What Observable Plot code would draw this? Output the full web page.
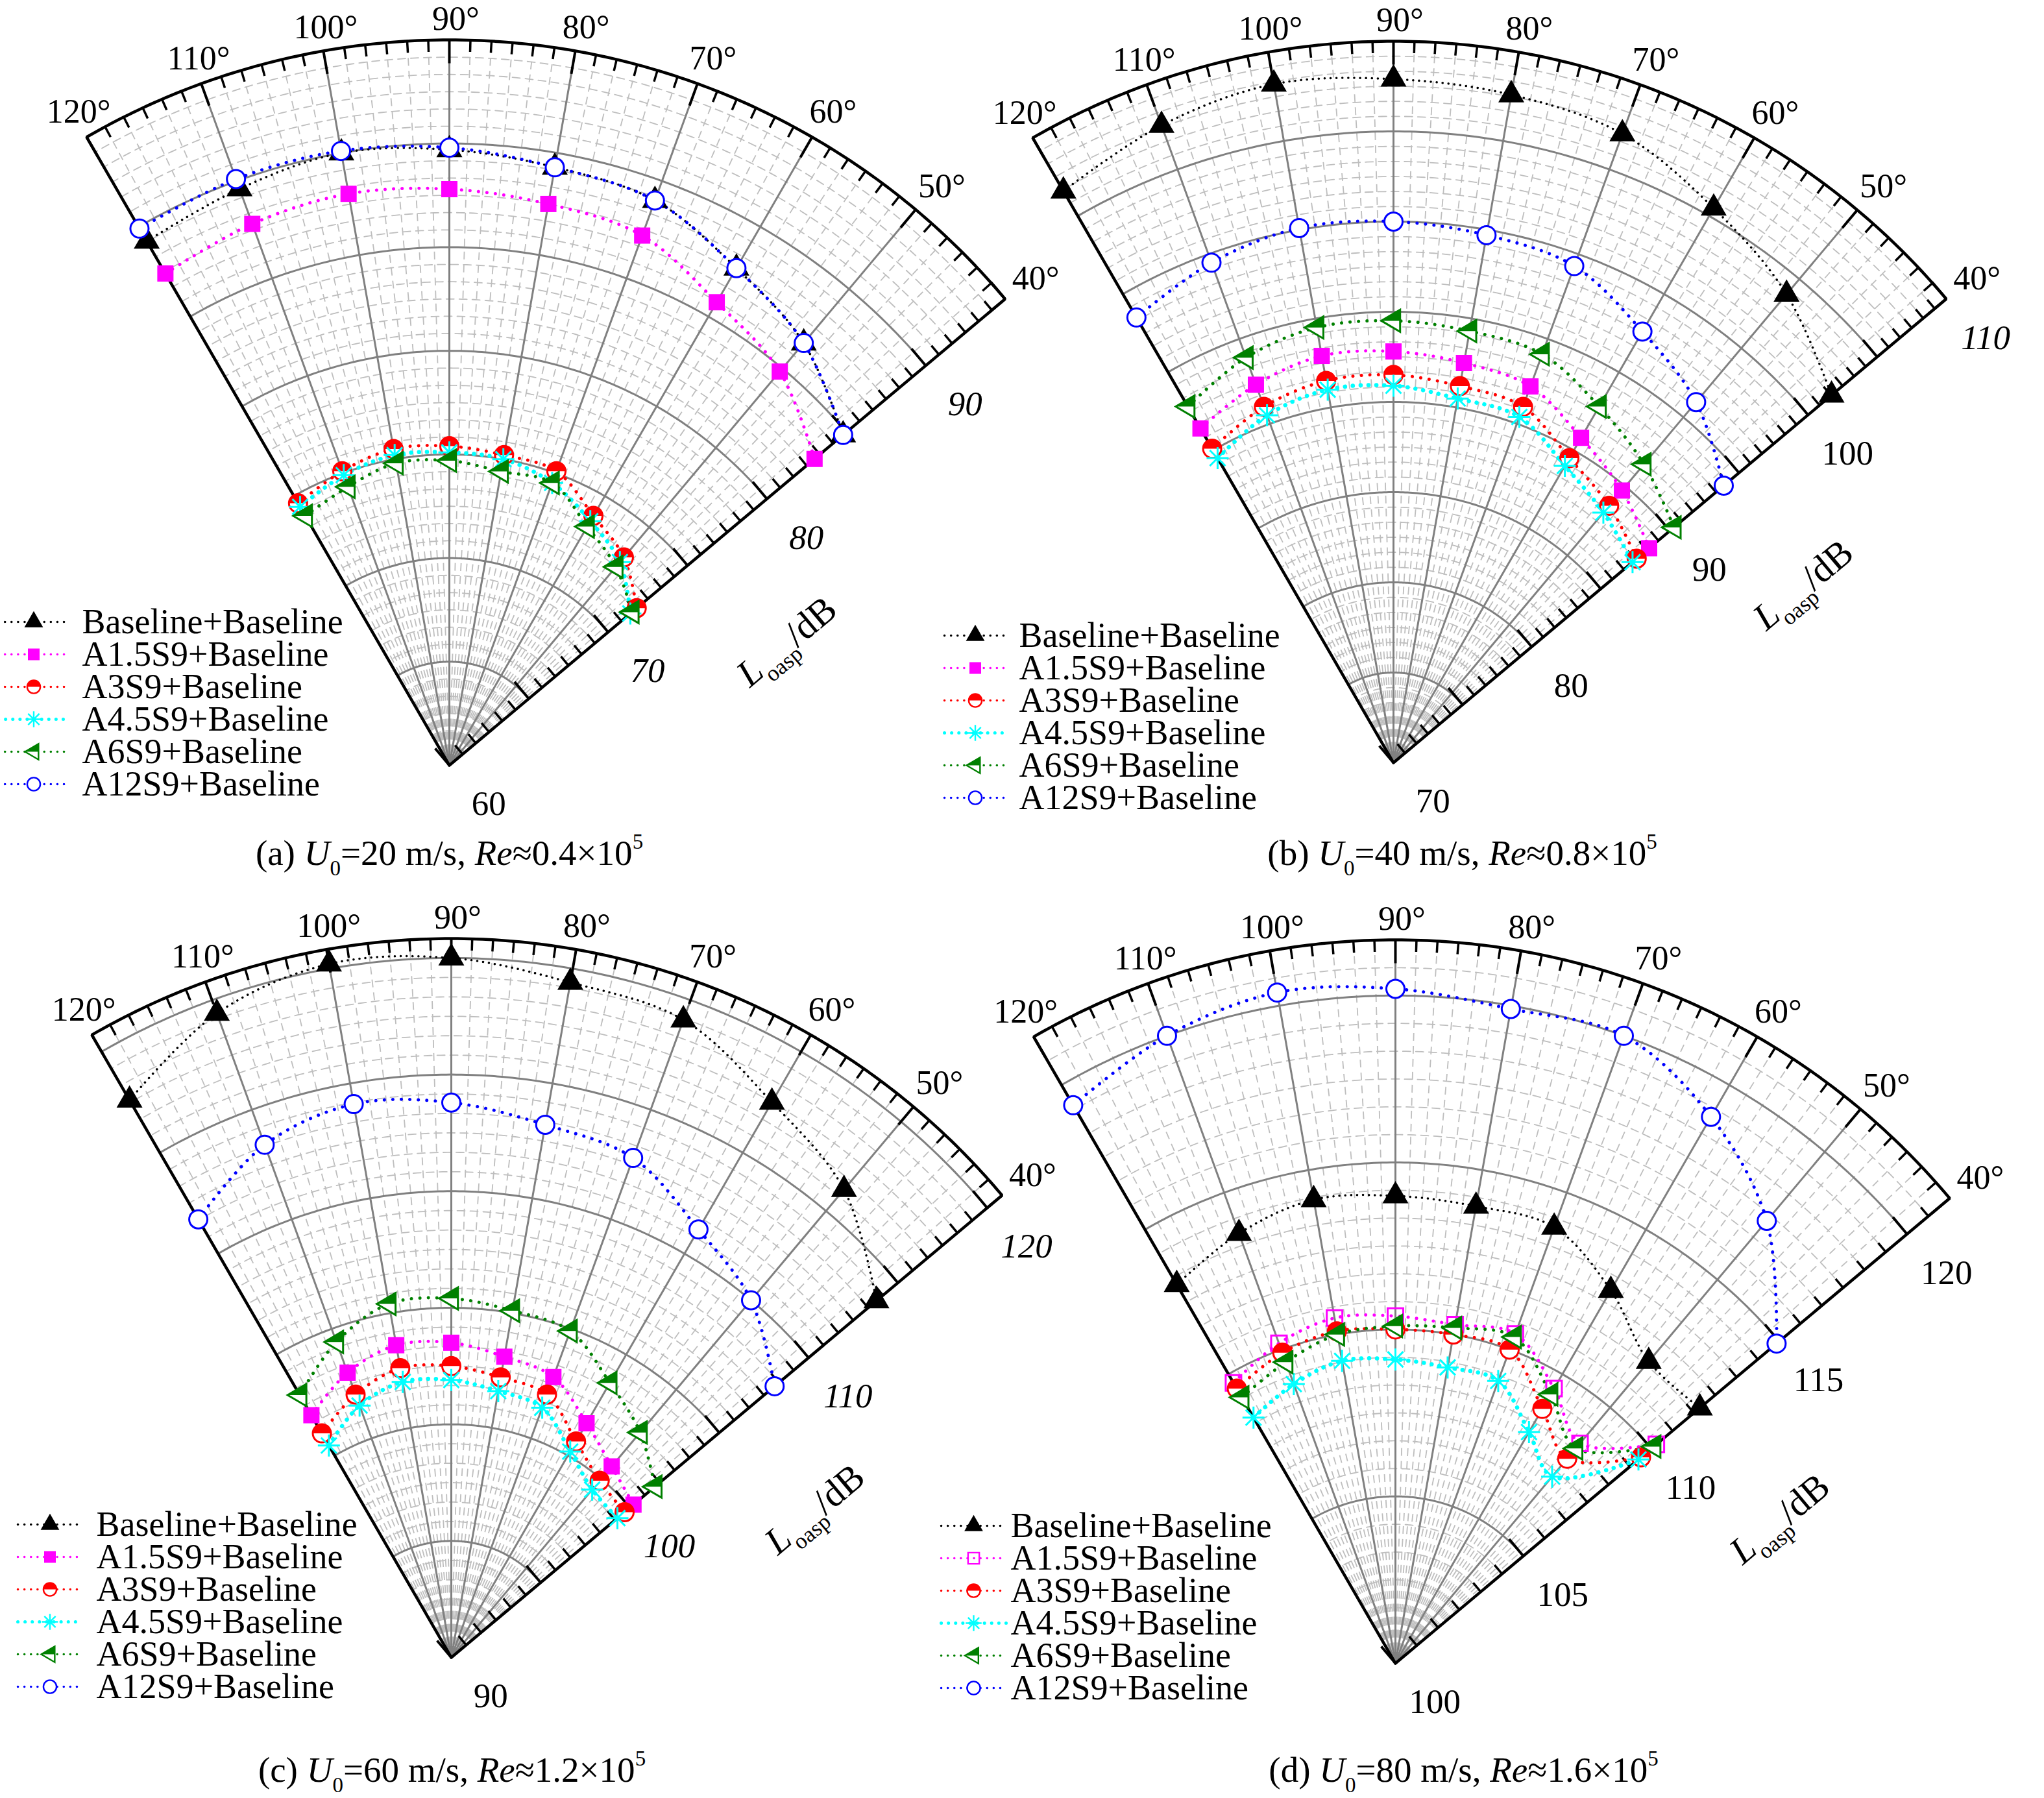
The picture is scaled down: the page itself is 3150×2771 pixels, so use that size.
<!DOCTYPE html>
<html><head><meta charset="utf-8">
<script src="https://cdn.jsdelivr.net/npm/d3@7"></script>
<script src="https://cdn.jsdelivr.net/npm/@observablehq/plot@0.6"></script>
<style>
html,body{margin:0;padding:0;background:#fff;}
#chart{width:3150px;height:2771px;}
#chart svg{overflow:visible;}
</style></head><body><div id="chart"></div>
<script>
// ---------------- data ----------------
const angles = [120,110,100,90,80,70,60,50,40];
const angleLabels = [40,50,60,70,80,90,100,110,120];
const seriesNames = ["Baseline+Baseline","A1.5S9+Baseline","A3S9+Baseline","A4.5S9+Baseline","A6S9+Baseline","A12S9+Baseline"];

// (a) U0 = 20 m/s
const aBaseline = [89.2, 89.6, 90.0, 89.7, 89.3, 89.0, 87.7, 86.6, 84.8];
const aA15      = [87.4, 87.8, 88.0, 87.8, 87.5, 87.2, 85.8, 84.8, 83.0];
const aA3       = [74.6, 75.1, 75.5, 75.4, 75.2, 75.1, 73.9, 73.1, 71.8];
const aA45      = [74.4, 74.9, 75.2, 75.1, 75.0, 74.5, 73.6, 72.8, 71.4];
const aA6       = [73.9, 74.3, 74.8, 74.7, 74.4, 74.5, 73.3, 72.5, 71.5];
const aA12      = [89.9, 90.1, 90.1, 89.8, 89.3, 89.0, 87.7, 86.6, 84.8];
const radialLabelsA = [60, 70, 80, 90];

// (b) U0 = 40 m/s
const bBaseline = [106.6, 107.6, 108.2, 107.9, 107.6, 107.1, 105.5, 103.9, 101.7];
const bA15      = [91.4, 92.3, 92.9, 92.8, 92.5, 92.2, 90.8, 89.7, 88.5];
const bA3       = [90.1, 91.0, 91.5, 91.5, 91.2, 91.0, 89.5, 88.6, 87.6];
const bA45      = [89.5, 90.5, 91.0, 90.9, 90.5, 90.4, 89.0, 88.1, 87.3];
const bA6       = [92.8, 93.9, 94.5, 94.5, 94.3, 94.1, 92.8, 91.6, 90.3];
const bA12      = [98.5, 99.5, 100.1, 100.0, 99.7, 99.3, 97.6, 96.1, 93.9];
const radialLabelsB = [70, 80, 90, 100, 110];

// (c) U0 = 60 m/s
const cBaseline = [117.6, 119.4, 120.2, 120.0, 119.4, 119.1, 117.5, 116.2, 113.8];
const cA15      = [102.0, 103.0, 103.6, 103.5, 103.1, 102.8, 101.6, 100.7, 100.2];
const cA3       = [101.1, 102.0, 102.6, 102.5, 102.2, 102.0, 100.7, 99.9, 99.7];
const cA45      = [100.5, 101.5, 102.0, 101.9, 101.6, 101.4, 100.2, 99.4, 99.3];
const cA6       = [103.0, 104.4, 105.4, 105.4, 105.1, 104.9, 103.6, 102.6, 101.4];
const cA12      = [111.7, 113.4, 114.1, 113.8, 113.2, 112.8, 111.2, 110.0, 108.1];
const radialLabelsC = [90, 100, 110, 120];

// (d) U0 = 80 m/s
const dBaseline = [113.1, 113.7, 114.1, 114.0, 113.9, 113.9, 112.9, 111.8, 111.9];
const dA15      = [109.7, 110.2, 110.5, 110.4, 110.3, 110.5, 109.5, 108.6, 110.2];
const dA3       = [109.5, 109.9, 110.1, 110.0, 110.0, 110.0, 108.8, 108.0, 109.6];
const dA45      = [108.5, 108.9, 109.2, 109.1, 109.0, 109.0, 108.0, 107.3, 109.5];
const dA6       = [109.2, 109.6, 110.0, 110.1, 110.2, 110.4, 109.3, 108.4, 110.1];
const dA12      = [119.3, 120.0, 120.4, 120.2, 119.9, 120.0, 118.9, 117.3, 114.9];
const radialLabelsD = [100, 105, 110, 115, 120];

const captionA = "(a) U0=20 m/s, Re≈0.4×105";
const captionB = "(b) U0=40 m/s, Re≈0.8×105";
const captionC = "(c) U0=60 m/s, Re≈1.2×105";
const captionD = "(d) U0=80 m/s, Re≈1.6×105";

// ---------------- layout ----------------
const panels = [
  {key:"a", cx:692,  cy:1179, R:1118, lo:60,  hi:95,        vals:[aBaseline,aA15,aA3,aA45,aA6,aA12], labels:radialLabelsA, italic:[70,80,90],
   tAlong:521, tPerp:188, legY:-221, legTX:-566, legL:[-695,-586], capX:692,  capY:1315, caption:captionA, hollow:false},
  {key:"b", cx:2147, cy:1175, R:1112, lo:70,  hi:110,       vals:[bBaseline,bA15,bA3,bA45,bA6,bA12], labels:radialLabelsB, italic:[110],
   tAlong:660, tPerp:196, legY:-196, legTX:-577, legL:[-692,-597], capX:2253, capY:1315, caption:captionB, hollow:false},
  {key:"c", cx:695,  cy:2554, R:1108, lo:90,  hi:120+5/6,   vals:[cBaseline,cA15,cA3,cA45,cA6,cA12], labels:radialLabelsC, italic:[100,110,120],
   tAlong:576, tPerp:185, legY:-205, legTX:-547, legL:[-668,-569], capX:696,  capY:2728, caption:captionC, hollow:false},
  {key:"d", cx:2150, cy:2563, R:1115, lo:100, hi:120+10/6,  vals:[dBaseline,dA15,dA3,dA45,dA6,dA12], labels:radialLabelsD, italic:[],
   tAlong:597, tPerp:210, legY:-212, legTX:-593, legL:[-700,-600], capX:2255, capY:2728, caption:captionD, hollow:true},
];
const legStep = 50;
const deg = Math.PI/180;
panels.forEach(p => p.rs = d3.scaleLinear([p.lo, p.hi], [0, p.R]));
const PX = (p, a, rr) => p.cx + rr*Math.cos(a*deg);
const PY = (p, a, rr) => p.cy - rr*Math.sin(a*deg);
const C40 = Math.cos(40*deg), S40 = Math.sin(40*deg);

// ---------------- symbols ----------------
const rad = s => Math.sqrt(s/Math.PI);
const sym = {
  triUp:{draw(c,s){const r=rad(s),h=r*1.732;c.moveTo(0,-h*2/3);c.lineTo(r,h/3);c.lineTo(-r,h/3);c.closePath();}},
  square:{draw(c,s){const r=rad(s);c.rect(-r,-r,2*r,2*r);}},
  circle:{draw(c,s){const r=rad(s);c.moveTo(r,0);c.arc(0,0,r,0,2*Math.PI);c.closePath();}},
  halfTop:{draw(c,s){const r=rad(s);c.moveTo(-r,0);c.arc(0,0,r,Math.PI,2*Math.PI);c.closePath();}},
  triLeft:{draw(c,s){const r=rad(s);c.moveTo(-1.1*r,0);c.lineTo(0.6*r,-r);c.lineTo(0.6*r,r);c.closePath();}},
  triLeftTop:{draw(c,s){const r=rad(s);c.moveTo(-1.1*r,0);c.lineTo(0.6*r,-r);c.lineTo(0.6*r,0);c.closePath();}},
  aster:{draw(c,s){const r=rad(s);for(const a of [0,45,90,135]){const x=r*Math.cos(a*deg),y=r*Math.sin(a*deg);c.moveTo(-x,-y);c.lineTo(x,y);}}}
};
const colors = ["#000000","#ff00ff","#ff0000","#00ffff","#008000","#0000ff"];
const lineStyle = [
  {w:3.5, dash:"0.1,9"},
  {w:5, dash:"0.1,13"},
  {w:5, dash:"0.1,13"},
  {w:6.5, dash:"0.1,12"},
  {w:5, dash:"0.1,13"},
  {w:5, dash:"0.1,13"}
];
function markerLayers(si, hollow, k){
  switch(si){
    case 0: return [[sym.triUp, 20*k, "#000", "none", 0]];
    case 1: return hollow ? [[sym.square, 12*k, "none", "#ff00ff", 3]] : [[sym.square, 12.5*k, "#ff00ff", "none", 0]];
    case 2: return [[sym.circle, 14*k, "white", "none", 0],[sym.halfTop, 14*k, "#ff0000", "none", 0],[sym.circle, 14*k, "none", "#ff0000", 3]];
    case 3: return [[sym.aster, 17*k, "none", "#00ffff", 3]];
    case 4: return [[sym.triLeft, 17*k, "white", "none", 0],[sym.triLeftTop, 17*k, "#008000", "none", 0],[sym.triLeft, 17*k, "none", "#008000", 3]];
    case 5: return [[sym.circle, 14*k, "white", "#0000ff", 3]];
  }
}

// ---------------- grid geometry ----------------
const dashArcs=[], solidArcs=[], dashRad=[], solidRad=[], boundary=[], ticks=[], minorTicks=[];
panels.forEach(p => {
  const step = 5/6;
  for (let k=1; p.lo + k*step < p.hi - 1e-6; k++){
    const v = p.lo + k*step, rr = p.rs(v), target = (k%6===0) ? solidArcs : dashArcs;
    for (let a=40; a<=120.001; a+=0.5) target.push({k:p.key+k, x:PX(p,a,rr), y:PY(p,a,rr)});
  }
  for (let k=0; k<=48; k++){
    const a = 40 + k*10/6;
    if (k%6 !== 0) dashRad.push({x1:p.cx, y1:p.cy, x2:PX(p,a,p.R), y2:PY(p,a,p.R)});
    else if (k>0 && k<48) solidRad.push({x1:p.cx, y1:p.cy, x2:PX(p,a,p.R), y2:PY(p,a,p.R)});
    const len = (k%6===0) ? 36 : 18;
    (k%6===0 ? ticks : minorTicks).push({x1:PX(p,a,p.R), y1:PY(p,a,p.R), x2:PX(p,a,p.R-len), y2:PY(p,a,p.R-len)});
  }
  for (let k=0; p.lo + k*step <= p.hi + 1e-6; k++){
    const rr = p.rs(p.lo + k*step), len = (k%6===0) ? 34 : 18;
    const x = PX(p,40,rr), y = PY(p,40,rr);
    (k%6===0 ? ticks : minorTicks).push({x1:x, y1:y, x2:x - len*S40, y2:y - len*C40});
  }
  boundary.push({k:p.key, x:p.cx, y:p.cy});
  for (let a=40; a<=120.001; a+=0.5) boundary.push({k:p.key, x:PX(p,a,p.R), y:PY(p,a,p.R)});
  boundary.push({k:p.key, x:p.cx, y:p.cy});
});

// ---------------- data rows ----------------
const rows = panels.flatMap(p => p.vals.flatMap((arr, si) => arr.map((v, i) => ({p, si, a:angles[i], v}))));
const dx = d => PX(d.p, d.a, d.p.rs(d.v));
const dy = d => PY(d.p, d.a, d.p.rs(d.v));

// labels
const angRows = panels.flatMap(p => angleLabels.map(a => ({p, a})));
const angOff = d => d.p.R + 14 + 18*Math.sin(d.a*deg) + 30*Math.abs(Math.cos(d.a*deg));
const radRows = panels.flatMap(p => p.labels.map(v => ({p, v, it: p.italic.includes(v)})));
const radX = d => d.p.cx + (d.p.rs(d.v)+8)*C40 + 85*S40;
const radY = d => d.p.cy - (d.p.rs(d.v)+8)*S40 + 85*C40;
const legRows = panels.flatMap(p => seriesNames.map((name, si) => ({p, si, name})));
const legYf = d => d.p.cy + d.p.legY + d.si*legStep;

const marks = [
  Plot.line(dashArcs, {x:"x", y:"y", z:"k", stroke:"#bebebe", strokeWidth:1.8, strokeDasharray:"12,8"}),
  Plot.link(dashRad, {x1:"x1", y1:"y1", x2:"x2", y2:"y2", stroke:"#bebebe", strokeWidth:1.8, strokeDasharray:"12,8"}),
  Plot.line(solidArcs, {x:"x", y:"y", z:"k", stroke:"#808080", strokeWidth:3}),
  Plot.link(solidRad, {x1:"x1", y1:"y1", x2:"x2", y2:"y2", stroke:"#808080", strokeWidth:3}),
  Plot.link(minorTicks, {x1:"x1", y1:"y1", x2:"x2", y2:"y2", stroke:"#000", strokeWidth:3.5}),
  Plot.link(ticks, {x1:"x1", y1:"y1", x2:"x2", y2:"y2", stroke:"#000", strokeWidth:4}),
  Plot.line(boundary, {x:"x", y:"y", z:"k", stroke:"#000", strokeWidth:4.5, strokeLinejoin:"miter"})
];
seriesNames.forEach((n, si) => {
  marks.push(Plot.line(rows.filter(d => d.si===si), {x:dx, y:dy, z:d => d.p.key, curve:"catmull-rom",
    stroke:colors[si], strokeWidth:lineStyle[si].w, strokeDasharray:lineStyle[si].dash, strokeLinecap:"round"}));
});
seriesNames.forEach((n, si) => {
  [false, true].forEach(h => {
    const sub = rows.filter(d => d.si===si && d.p.hollow===h);
    markerLayers(si, h, 1).forEach(([s, r, fill, stroke, sw]) => {
      marks.push(Plot.dot(sub, {x:dx, y:dy, symbol:s, r, fill, stroke, strokeWidth:sw}));
    });
  });
});
seriesNames.forEach((n, si) => {
  const sub = legRows.filter(d => d.si===si);
  marks.push(Plot.link(sub, {x1:d => d.p.cx + d.p.legL[0], x2:d => d.p.cx + d.p.legL[1], y1:legYf, y2:legYf,
    stroke:colors[si], strokeWidth:si===3?5:3.5, strokeDasharray:si===3?"0.1,11":"0.1,10", strokeLinecap:"round"}));
  [false, true].forEach(h => {
    const s2 = sub.filter(d => d.p.hollow===h);
    markerLayers(si, h, 0.72).forEach(([s, r, fill, stroke, sw]) => {
      marks.push(Plot.dot(s2, {x:d => d.p.cx + (d.p.legL[0]+d.p.legL[1])/2, y:legYf, symbol:s, r, fill, stroke, strokeWidth:sw*0.8}));
    });
  });
});
marks.push(Plot.text(legRows, {x:d => d.p.cx + d.p.legTX, y:legYf, text:"name", textAnchor:"start", lineAnchor:"middle",
  fontSize:54, fontFamily:"Liberation Serif", fill:"#000"}));
marks.push(Plot.text(angRows, {x:d => PX(d.p, d.a, angOff(d)) + 10, y:d => PY(d.p, d.a, angOff(d)), text:d => d.a + "°",
  textAnchor:"middle", lineAnchor:"middle", fontSize:52, fontFamily:"Liberation Serif", fill:"#000"}));
marks.push(Plot.text(radRows.filter(d => !d.it), {x:radX, y:radY, text:d => String(d.v), textAnchor:"middle", lineAnchor:"middle",
  fontSize:53, fontFamily:"Liberation Serif", fill:"#000"}));
marks.push(Plot.text(radRows.filter(d => d.it), {x:radX, y:radY, text:d => String(d.v), textAnchor:"middle", lineAnchor:"middle",
  fontSize:53, fontFamily:"Liberation Serif", fontStyle:"italic", fill:"#000"}));
marks.push(Plot.text(panels, {x:p => p.cx + p.tAlong*C40 + p.tPerp*S40, y:p => p.cy - p.tAlong*S40 + p.tPerp*C40,
  text:() => "Loasp/dB", rotate:-40, textAnchor:"middle", lineAnchor:"middle", fontSize:58, fontFamily:"Liberation Serif", fill:"#000"}));
marks.push(Plot.text(panels, {x:"capX", y:"capY", text:"caption", textAnchor:"middle", lineAnchor:"middle",
  fontSize:55, fontFamily:"Liberation Serif", fill:"#000"}));

const svg = Plot.plot({
  width:3150, height:2771, margin:0,
  x:{domain:[0,3150], range:[0,3150], axis:null},
  y:{domain:[0,2771], range:[0,2771], axis:null},
  style:{background:"white", fontFamily:"Liberation Serif"},
  marks
});
document.getElementById("chart").appendChild(svg);

// rich text (italic, sub/superscripts)
function capParts(s){
  const m = s.match(/^(\(.\)) U0=(\d+) m\/s, Re≈(.*)×105$/);
  return [[m[1]+" "],["U","i"],["0","sub"],["="+m[2]+" m/s, "],["Re","i"],["≈"+m[3]+"×10"],["5","sup"]];
}
d3.select(svg).selectAll("text").each(function(){
  const t = this.textContent;
  let parts = null, fs = 55;
  if (/^\(.\) U0=/.test(t)) parts = capParts(t);
  else if (t === "Loasp/dB") { parts = [["L","i"],["oasp","sub"],["/dB"]]; fs = 58; }
  if (!parts) return;
  const el = d3.select(this); el.text(null);
  let shift = 0;
  parts.forEach(([str, kind]) => {
    const ts = el.append("tspan").text(str);
    let target = 0;
    if (kind === "i") ts.attr("font-style","italic");
    if (kind === "sub") { ts.attr("font-size", fs*0.6); target = fs*0.28; }
    if (kind === "sup") { ts.attr("font-size", fs*0.6); target = -fs*0.45; }
    if (target !== shift) { ts.attr("dy", target - shift); shift = target; }
  });
});
</script></body></html>
